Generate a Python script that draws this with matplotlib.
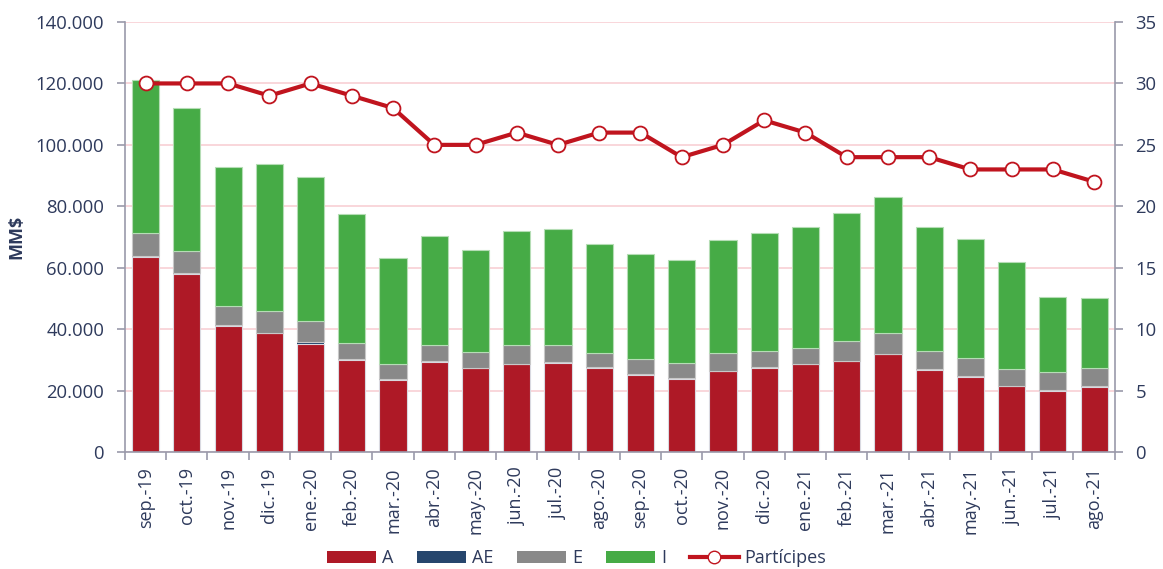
import matplotlib
matplotlib.use("Agg")
import matplotlib.pyplot as plt
import numpy as np
from matplotlib.lines import Line2D
from matplotlib.patches import Patch

plt.rcParams['font.family'] = ['Open Sans', 'DejaVu Sans']

categories = ["sep.-19", "oct.-19", "nov.-19", "dic.-19", "ene.-20", "feb.-20", "mar.-20",
              "abr.-20", "may.-20", "jun.-20", "jul.-20", "ago.-20", "sep.-20", "oct.-20",
              "nov.-20", "dic.-20", "ene.-21", "feb.-21", "mar.-21", "abr.-21", "may.-21",
              "jun.-21", "jul.-21", "ago.-21"]
serie_A = [63500, 58000, 41000, 38700, 35300, 30100, 23600, 29400, 27300, 28600, 29000, 27400,
           25100, 23900, 26300, 27400, 28500, 29550, 31750, 26750, 24500, 21350, 19950, 21250]
serie_AE = [300, 200, 300, 200, 500, 200, 200, 200, 150, 150, 200, 150,
            150, 150, 150, 150, 150, 150, 150, 150, 150, 150, 150, 150]
serie_E = [7400, 7100, 6400, 7000, 6800, 5200, 4800, 5400, 5000, 6000, 5500, 4600,
           4900, 5000, 5650, 5300, 5100, 6400, 6850, 5850, 6050, 5500, 5850, 6050]
serie_I = [50000, 46800, 45200, 47800, 46900, 42000, 34600, 35200, 33200, 37100, 37900, 35700,
           34400, 33500, 36900, 38400, 39500, 41800, 44400, 40400, 38550, 34850, 24400, 22700]
participes = [30, 30, 30, 29, 30, 29, 28, 25, 25, 26, 25, 26, 26, 24, 25, 27, 26, 24, 24, 24,
              23, 23, 23, 22]

c_A = "#AE1926"
c_AE = "#26466D"
c_E = "#898989"
c_I = "#46AB46"
c_line = "#C0141E"
txt = "#2E3A5C"
spine = "#9A9AAA"

fig = plt.figure(figsize=(11.63, 5.69), dpi=100)
ax = fig.add_axes([0.1075, 0.2056, 0.851, 0.7557])
ax2 = ax.twinx()

x = np.arange(len(categories))
w = 0.66
A = np.array(serie_A); AE = np.array(serie_AE); E = np.array(serie_E); I = np.array(serie_I)
ax.bar(x, A, w, color=c_A, edgecolor="#D9D9E0", linewidth=0.8, zorder=2)
ax.bar(x, AE, w, bottom=A, color=c_AE, linewidth=0, zorder=2)
ax.bar(x, E, w, bottom=A + AE, color=c_E, edgecolor="#C8C8C8", linewidth=0.8, zorder=2)
ax.bar(x, I, w, bottom=A + AE + E, color=c_I, edgecolor="#B5DDB5", linewidth=0.8, zorder=2)

ax.set_ylim(0, 140000)
ax.set_xlim(-0.5, len(categories) - 0.5)
ax.set_yticks(np.arange(0, 140001, 20000))
ax.set_yticklabels([f"{int(v):,}".replace(",", ".") for v in np.arange(0, 140001, 20000)])
ax.yaxis.grid(True, color="#F8D0D4", linewidth=1.2, zorder=0)
ax.set_axisbelow(True)

ax.set_xticks(x)
ax.set_xticklabels(categories, rotation=90)
ax.set_xticks(np.arange(-0.5, len(categories)), minor=True)
ax.tick_params(axis='x', which='major', length=0, pad=11, labelsize=13, labelcolor=txt)
ax.tick_params(axis='x', which='minor', length=6, color=spine, width=1.2)
ax.tick_params(axis='y', length=6, color=spine, width=1.2, labelsize=13.3, labelcolor=txt, pad=9)
ax.set_ylabel("MM$", fontsize=13, fontweight='bold', color=txt, labelpad=7)

ax2.plot(x, participes, color=c_line, linewidth=3, marker='o', markersize=10,
         markerfacecolor='white', markeredgecolor=c_line, markeredgewidth=1.3, zorder=5)
ax2.set_ylim(0, 35)
ax2.set_yticks(np.arange(0, 36, 5))
ax2.tick_params(axis='y', length=6, color=spine, width=1.2, labelsize=13.3, labelcolor=txt, pad=9)

for a in (ax, ax2):
    a.spines['top'].set_visible(False)
    for s in ('left', 'right', 'bottom'):
        a.spines[s].set_color(spine)
        a.spines[s].set_linewidth(1.2)
ax.spines['right'].set_visible(False)
ax2.spines['left'].set_visible(False)
ax2.spines['bottom'].set_visible(False)

handles = [Patch(facecolor=c_A, label="A"), Patch(facecolor=c_AE, label="AE"),
           Patch(facecolor=c_E, label="E"), Patch(facecolor=c_I, label="I"),
           Line2D([0], [0], color=c_line, linewidth=3, marker='o', markersize=9,
                  markerfacecolor='white', markeredgecolor=c_line, label="Partícipes")]
leg = fig.legend(handles=handles, loc='center', bbox_to_anchor=(0.496, 0.0193), ncol=5,
                 frameon=False, fontsize=13, handlelength=2.7, handleheight=0.67,
                 columnspacing=1.33, handletextpad=0.33, borderpad=0)
for t in leg.get_texts():
    t.set_color(txt)

fig.savefig("out.png", dpi=100)
